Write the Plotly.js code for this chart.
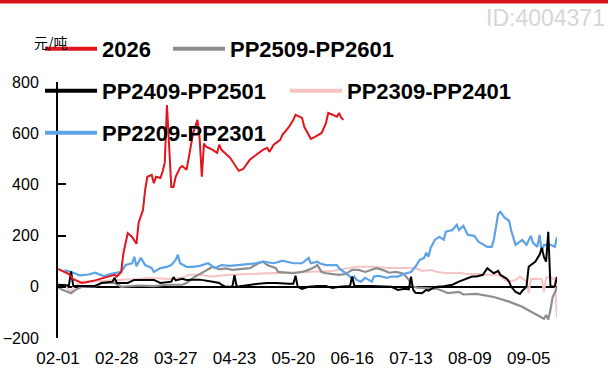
<!DOCTYPE html>
<html><head><meta charset="utf-8">
<script src="https://cdn.plot.ly/plotly-3.0.1.min.js"></script>
<style>html,body{margin:0;padding:0;background:#fff}#chart{width:608px;height:374px}</style>
</head><body><div id="chart"></div>
<script>
const YEAR = '2025-';
const seriesNames = ['2026', 'PP2509-PP2601', 'PP2409-PP2501', 'PP2309-PP2401', 'PP2209-PP2301'];
const xTickStart = '02-01';
const xRangeEnd = '09-18';
const yTickVals = [-200, 0, 200, 400, 600, 800];

const dates2026 = ['02-01','02-04','02-06','02-08','02-12','02-14','02-18','02-22','02-27','02-28','03-02','03-03','03-05','03-07','03-09','03-10','03-12','03-13','03-14','03-16','03-17','03-18','03-20','03-21','03-22','03-23','03-25','03-26','03-27','03-29','03-30','04-01','04-02','04-03','04-04','04-06','04-07','04-08','04-09','04-10','04-13','04-15','04-16','04-17','04-21','04-24','04-25','04-27','04-30','05-03','05-06','05-08','05-09','05-11','05-14','05-15','05-18','05-20','05-21','05-24','05-25','05-27','05-28','05-30','06-01','06-02','06-04','06-05','06-07','06-09','06-10','06-11','06-12'];
const vals2026 = [70,58,50,30,15,18,25,35,47,40,58,130,210,195,168,250,300,380,430,437,405,430,425,450,485,710,390,390,430,465,472,457,508,547,600,652,580,430,560,547,535,523,555,535,504,465,453,460,496,516,535,543,527,555,574,594,625,652,672,660,625,594,578,586,594,601,640,679,672,664,679,660,652];

const datesPP2509 = ['02-01','02-03','02-07','02-09','02-12','02-18','02-21','02-27','03-02','03-10','03-17','03-23','03-30','04-01','04-04','04-06','04-10','04-13','04-16','04-19','04-22','04-26','04-30','05-04','05-06','05-08','05-12','05-13','05-18','05-20','05-24','05-27','05-30','05-31','06-02','06-04','06-10','06-13','06-16','06-19','06-22','06-25','06-27','06-30','07-03','07-06','07-09','07-10','07-12','07-13','07-14','07-16','07-22','07-25','07-30','08-04','08-06','08-12','08-20','08-27','09-02','09-06','09-09','09-12','09-13','09-14','09-15','09-16','09-18'];
const valsPP2509 = [0,-12,-25,-12,0,2,15,15,0,5,3,8,8,15,35,45,66,78,68,72,66,70,73,92,98,85,73,58,53,53,58,66,78,85,58,53,47,50,66,66,58,66,73,66,55,58,53,47,27,8,0,-3,-5,-8,-25,-20,-30,-28,-40,-58,-78,-98,-110,-125,-110,-128,-90,-40,-5];

const datesPP2409 = ['02-01','02-04','02-06','02-07','02-08','02-18','02-21','02-26','02-27','02-28','03-05','03-08','03-14','03-17','03-20','03-23','03-25','03-26','03-27','03-30','04-01','04-04','04-07','04-13','04-16','04-17','04-19','04-22','04-23','04-24','04-30','05-04','05-08','05-12','05-18','05-20','05-21','05-22','05-24','05-27','05-31','06-04','06-07','06-10','06-15','06-16','06-17','06-25','07-04','07-07','07-10','07-12','07-13','07-14','07-15','07-18','07-20','07-21','07-23','07-25','07-28','08-01','08-04','08-06','08-07','08-10','08-12','08-15','08-17','08-19','08-20','08-22','08-23','08-26','08-27','08-28','08-30','09-01','09-02','09-04','09-05','09-06','09-08','09-10','09-11','09-12','09-13','09-14','09-15','09-17','09-18'];
const valsPP2409 = [8,5,5,60,3,3,15,20,35,15,15,27,27,27,15,18,20,38,25,31,27,28,28,20,15,8,0,0,45,0,8,12,15,15,12,12,43,0,-8,0,3,3,-5,0,3,40,3,3,0,-12,-8,-10,40,-12,-23,-25,-12,-15,-5,0,2,8,20,27,31,40,40,47,73,58,53,62,47,31,20,0,-20,-28,-16,0,78,85,98,125,152,117,98,215,0,2,38];

const datesPP2309 = ['02-01','02-04','02-06','02-07','02-08','02-12','02-18','02-27','03-02','03-10','03-14','03-17','03-24','03-30','04-02','04-07','04-12','04-21','04-30','05-08','05-15','05-24','05-31','06-07','06-12','06-18','06-25','07-03','07-11','07-15','07-18','07-22','07-25','07-30','08-04','08-08','08-13','08-16','08-22','08-25','08-28','08-30','09-01','09-04','09-05','09-06','09-07','09-10','09-11','09-12','09-13','09-15','09-16','09-17','09-18'];
const valsPP2309 = [5,10,-15,-20,0,20,22,25,25,30,35,33,30,35,47,47,40,47,50,53,55,58,58,62,70,78,78,73,73,73,62,66,58,53,55,50,50,47,47,27,22,27,40,20,-25,30,31,31,30,-20,35,40,31,35,-120];

const datesPP2209 = ['02-04','02-07','02-11','02-15','02-18','02-22','02-25','02-27','03-02','03-04','03-07','03-08','03-09','03-11','03-13','03-16','03-17','03-20','03-23','03-25','03-27','03-28','03-29','04-01','04-04','04-07','04-11','04-14','04-17','04-21','04-26','05-03','05-06','05-11','05-15','05-20','05-24','05-27','05-28','05-31','06-01','06-04','06-09','06-10','06-13','06-15','06-16','06-17','06-18','06-20','06-22','06-25','06-26','06-28','07-02','07-04','07-07','07-10','07-13','07-15','07-17','07-19','07-20','07-21','07-22','07-24','07-26','07-28','07-29','08-01','08-03','08-04','08-06','08-08','08-11','08-13','08-17','08-19','08-20','08-22','08-23','08-25','08-27','08-28','08-30','09-01','09-02','09-04','09-06','09-07','09-09','09-10','09-11','09-12','09-15','09-17','09-18'];
const valsPP2209 = [65,58,45,48,55,42,50,53,58,85,92,117,80,113,85,73,58,73,78,85,105,125,92,78,78,82,92,73,85,82,85,92,98,92,102,92,92,113,92,98,92,85,85,73,53,40,27,40,27,20,35,20,40,43,35,40,40,51,58,78,105,113,133,117,152,184,195,184,215,222,242,222,238,203,199,176,156,156,183,285,293,270,258,219,164,176,183,164,199,172,156,203,137,164,164,156,195];

const colors = ['#e3141c', '#8e8e8e', '#000000', '#f6c4c4', '#5ea2e8'];
const allDates = [dates2026, datesPP2509, datesPP2409, datesPP2309, datesPP2209];
const allVals = [vals2026, valsPP2509, valsPP2409, valsPP2309, valsPP2209];
const lineWidths = [2, 2.2, 2, 2, 2.2];

const legendIds = ['legend', 'legend2', 'legend3', 'legend4', 'legend5'];
const traces = [];
// data lines (drawn back to front so that later series sit on top)
const drawOrder = [3, 1, 4, 2, 0];
drawOrder.forEach(function(i) {
  traces.push({
    type: 'scatter', mode: 'lines', name: seriesNames[i], showlegend: false,
    x: allDates[i].map(function(d){ return YEAR + d; }), y: allVals[i],
    line: {color: colors[i], width: lineWidths[i]}, hoverinfo: 'skip'
  });
});
// legend entries
seriesNames.forEach(function(n, i) {
  traces.push({type: 'scatter', mode: 'lines', name: n, x: [null], y: [null],
    line: {color: colors[i], width: 4}, legend: legendIds[i], showlegend: true});
});

const L = 58, R = 51, T = 82, B = 36, W = 608, H = 374;
const pw = W - L - R, ph = H - T - B;
function px2x(p) { return (p - L) / pw; }
function py2y(p) { return (H - B - p) / ph; }

const legendFont = {family: 'Liberation Sans, Arial, sans-serif', size: 22, color: '#000', weight: 'bold'};
function mkLegend(xp, yp) {
  return {x: px2x(xp), y: py2y(yp), xanchor: 'left', yanchor: 'middle', orientation: 'h',
    bgcolor: 'rgba(0,0,0,0)', borderwidth: 0, font: legendFont, itemwidth: 52};
}

const layout = {
  width: W, height: H,
  margin: {l: L, r: R, t: T, b: B, pad: 0},
  paper_bgcolor: '#fff', plot_bgcolor: '#fff',
  showlegend: true,
  legend: mkLegend(40, 49),
  legend2: mkLegend(168, 49),
  legend3: mkLegend(40, 91),
  legend4: mkLegend(285, 91),
  legend5: mkLegend(40, 133),
  xaxis: {
    type: 'date', range: [YEAR + xTickStart, YEAR + xRangeEnd],
    tick0: YEAR + xTickStart, dtick: 27 * 86400000, tickformat: '%m-%d',
    showgrid: false, showline: false, zeroline: false, ticks: '',
    tickfont: {family: 'Liberation Sans, Arial, sans-serif', size: 17, color: '#000'},
    ticklabelstandoff: 8
  },
  yaxis: {
    range: [-200, 800], tickvals: yTickVals, showgrid: false,
    showline: true, linecolor: '#000', linewidth: 2,
    ticks: 'inside', ticklen: 8, tickwidth: 2, tickcolor: '#000',
    zeroline: true, zerolinecolor: '#000', zerolinewidth: 2,
    tickfont: {family: 'Liberation Sans, Arial, sans-serif', size: 16, color: '#000'},
    ticklabelstandoff: 14
  },
  shapes: [{type: 'rect', xref: 'paper', yref: 'paper', x0: px2x(0), x1: px2x(W), y0: py2y(3.5), y1: py2y(0),
    fillcolor: '#d7141a', line: {width: 0}, layer: 'above'}],
  annotations: [
    {text: 'ID:4004371', xref: 'paper', yref: 'paper', x: px2x(607), y: py2y(18), xanchor: 'right', yanchor: 'middle',
      showarrow: false, font: {family: 'Liberation Sans, Arial, sans-serif', size: 23, color: '#d6d6d6'}},
    {text: '元/吨', xref: 'paper', yref: 'paper', x: px2x(51), y: py2y(42), xanchor: 'center', yanchor: 'middle',
      showarrow: false, font: {family: 'Noto Sans CJK SC, sans-serif', size: 14, color: '#000'}}
  ]
};

Plotly.newPlot('chart', traces, layout, {staticPlot: true, displayModeBar: false});
</script></body></html>
